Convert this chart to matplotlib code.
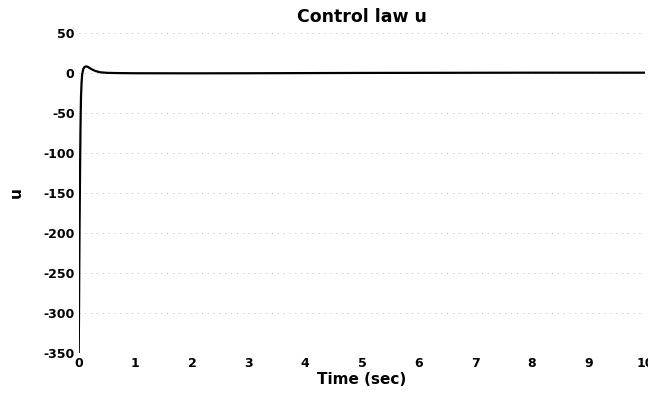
import matplotlib.pyplot as plt

# time samples (sec) and control input u
t = [0.0, 0.005, 0.01, 0.015, 0.02, 0.025, 0.03, 0.035, 0.04, 0.05, 0.06, 0.08,
     0.1, 0.13, 0.16, 0.2, 0.25, 0.3, 0.38, 0.5, 0.7, 1.0, 2.0, 3.0, 4.0, 5.0,
     6.0, 7.0, 8.0, 9.0, 10.0]
u = [-350.0, -300.0, -240.0, -190.0, -150.0, -110.0, -75.0, -50.0, -30.0, -12.0, -2.0, 5.0,
     7.5, 8.4, 7.8, 6.0, 4.0, 2.5, 1.0, 0.3, 0.0, -0.2, -0.3, -0.2, 0.0, 0.2,
     0.3, 0.4, 0.5, 0.5, 0.5]

yticks = [50, 0, -50, -100, -150, -200, -250, -300, -350]
xticks = [0, 1, 2, 3, 4, 5, 6, 7, 8, 9, 10]

plt.rcParams['font.family'] = ['DejaVu Sans']
plt.rcParams['axes.unicode_minus'] = False

fig = plt.figure(figsize=(6.48, 3.94), dpi=100)
ax = fig.add_axes([0.1215, 0.104, 0.874, 0.812])

ax.plot(t, u, color='black', linewidth=1.6)

ax.set_xlim(0, 10)
ax.set_ylim(-350, 50)
ax.set_xticks(xticks)
ax.set_yticks(yticks)
ax.tick_params(length=0, labelsize=9, pad=3)
for lab in ax.get_xticklabels() + ax.get_yticklabels():
    lab.set_fontweight('bold')

ax.yaxis.grid(True, linestyle=(0, (1, 5)), color='#c0c0c0', linewidth=0.7)
for side in ['top', 'right', 'bottom', 'left']:
    ax.spines[side].set_visible(False)

ax.set_title('Control law u', fontsize=12.5, fontweight='bold', pad=8)
ax.set_xlabel('Time (sec)', fontsize=11, fontweight='bold', labelpad=1)
ax.set_ylabel('u', fontsize=11, fontweight='bold', labelpad=14)

fig.savefig('out.png', dpi=100)
